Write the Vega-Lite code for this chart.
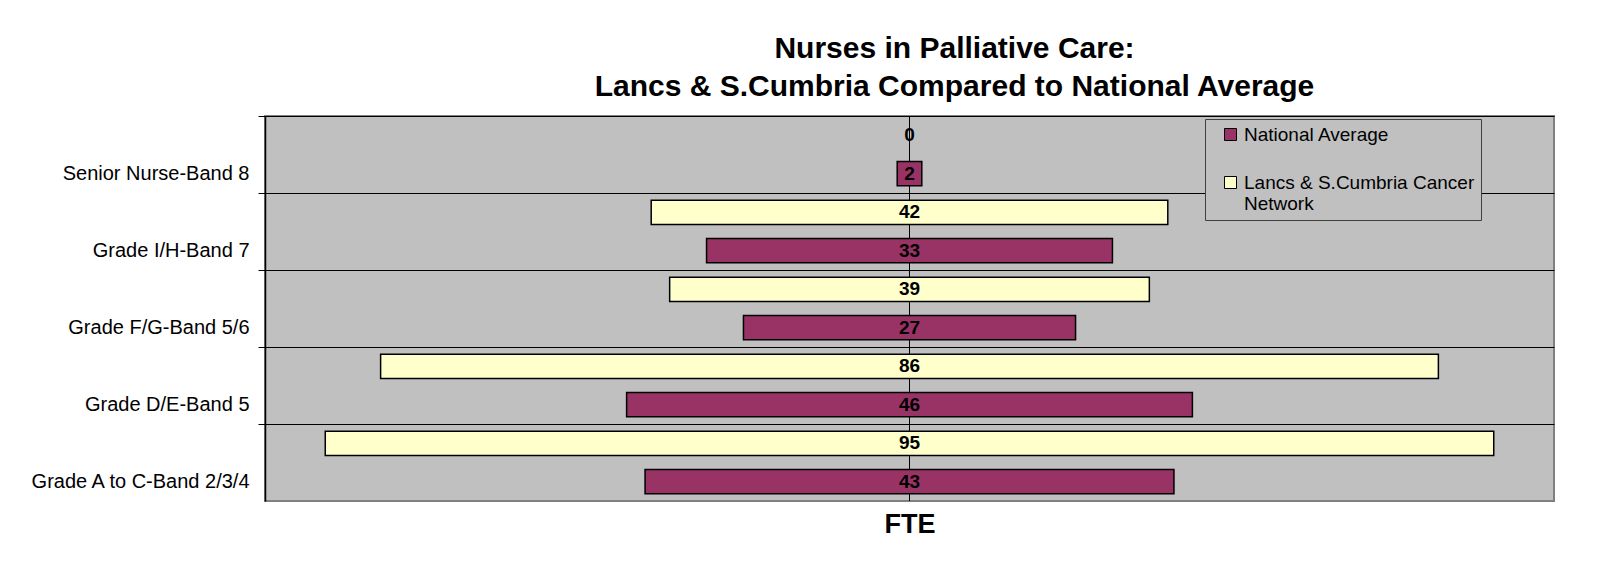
{
  "$schema": "https://vega.github.io/schema/vega-lite/v6.json",
  "width": 1289,
  "height": 385,
  "autosize": {"type": "none"},
  "padding": {"left": 265, "top": 116, "right": 46, "bottom": 66},
  "background": "white",
  "config": {
    "font": "Liberation Sans",
    "view": {"fill": "#C0C0C0", "stroke": "#808080", "strokeWidth": 2}
  },
  "title": {
    "text": ["Nurses in Palliative Care:", "Lancs & S.Cumbria Compared to National Average"],
    "font": "Liberation Sans",
    "fontSize": 30,
    "fontWeight": "bold",
    "color": "black",
    "anchor": "middle",
    "baseline": "bottom",
    "dx": 45,
    "offset": -16,
    "lineHeight": 38
  },
  "data": {
    "values": [
      {"grade": "Senior Nurse-Band 8", "series": "Lancs & S.Cumbria Cancer Network", "value": 0},
      {"grade": "Senior Nurse-Band 8", "series": "National Average", "value": 2},
      {"grade": "Grade I/H-Band 7", "series": "Lancs & S.Cumbria Cancer Network", "value": 42},
      {"grade": "Grade I/H-Band 7", "series": "National Average", "value": 33},
      {"grade": "Grade F/G-Band 5/6", "series": "Lancs & S.Cumbria Cancer Network", "value": 39},
      {"grade": "Grade F/G-Band 5/6", "series": "National Average", "value": 27},
      {"grade": "Grade D/E-Band 5", "series": "Lancs & S.Cumbria Cancer Network", "value": 86},
      {"grade": "Grade D/E-Band 5", "series": "National Average", "value": 46},
      {"grade": "Grade A to C-Band 2/3/4", "series": "Lancs & S.Cumbria Cancer Network", "value": 95},
      {"grade": "Grade A to C-Band 2/3/4", "series": "National Average", "value": 43}
    ]
  },
  "layer": [
    {
      "mark": {"type": "rule", "color": "black", "strokeWidth": 1},
      "encoding": {
        "x": {"datum": 47.5, "type": "quantitative"}
      }
    },
    {
      "transform": [{"filter": "datum.value > 0"}],
      "mark": {"type": "bar", "stroke": "black", "strokeWidth": 1.5},
      "encoding": {
        "x": {
          "field": "value",
          "type": "quantitative",
          "stack": "center",
          "scale": {"domain": [-4.9, 99.9], "nice": false, "zero": false},
          "axis": {
            "title": "FTE",
            "labels": false,
            "ticks": false,
            "grid": false,
            "domain": false,
            "titleFontSize": 27,
            "titleFontWeight": "bold",
            "titleColor": "black",
            "titlePadding": 10
          }
        },
        "y": {
          "field": "grade",
          "type": "nominal",
          "scale": {
            "domain": ["Senior Nurse-Band 8", "Grade I/H-Band 7", "Grade F/G-Band 5/6", "Grade D/E-Band 5", "Grade A to C-Band 2/3/4"],
            "paddingInner": 0,
            "paddingOuter": 0
          },
          "axis": {
            "title": null,
            "bandPosition": 0,
            "grid": true,
            "gridColor": "black",
            "gridWidth": 1,
            "ticks": true,
            "tickSize": 7,
            "tickColor": "black",
            "domain": true,
            "domainColor": "black",
            "domainWidth": 1.5,
            "labelFontSize": 20,
            "labelColor": "black",
            "labelPadding": 9,
            "labelOffset": 19,
            "labelLimit": 400
          }
        },
        "yOffset": {
          "field": "series",
          "type": "nominal",
          "scale": {
            "domain": ["Lancs & S.Cumbria Cancer Network", "National Average"],
            "paddingInner": 0.37,
            "paddingOuter": 0.19
          }
        },
        "color": {
          "field": "series",
          "type": "nominal",
          "scale": {
            "domain": ["National Average", "Lancs & S.Cumbria Cancer Network"],
            "range": ["#993366", "#FFFFCC"]
          },
          "legend": {
            "title": null,
            "orient": "none",
            "legendX": 940,
            "legendY": 3,
            "direction": "vertical",
            "fillColor": "#C0C0C0",
            "strokeColor": "#404040",
            "padding": 6,
            "symbolOffset": 10,
            "symbolType": "square",
            "symbolSize": 144,
            "symbolStrokeColor": "black",
            "symbolStrokeWidth": 1,
            "symbolOpacity": 1,
            "labelFontSize": 19,
            "labelColor": "black",
            "labelLimit": 400,
            "labelOffset": 4,
            "rowPadding": 28,
            "labelExpr": "datum.label == 'Lancs & S.Cumbria Cancer Network' ? ['Lancs & S.Cumbria Cancer', 'Network'] : datum.label"
          }
        }
      }
    },
    {
      "mark": {"type": "text", "fontWeight": "bold", "fontSize": 19, "color": "black", "align": "center", "baseline": "middle"},
      "encoding": {
        "x": {"datum": 47.5, "type": "quantitative"},
        "y": {"field": "grade", "type": "nominal"},
        "yOffset": {"field": "series", "type": "nominal"},
        "text": {"field": "value", "type": "quantitative"}
      }
    }
  ]
}
